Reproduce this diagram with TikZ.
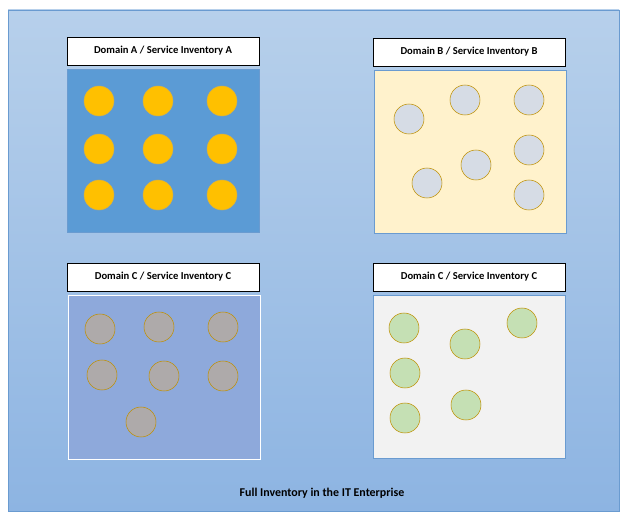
\documentclass[tikz,border=0pt]{standalone}
\usepackage{fontspec}
\setmainfont{Carlito}
\definecolor{frTop}{HTML}{B7D0EB}
\definecolor{frBot}{HTML}{8DB4E2}
\definecolor{frLine}{HTML}{6A9BD0}
\definecolor{pnA}{HTML}{5B9BD5}
\definecolor{pnB}{HTML}{FFF2CC}
\definecolor{pnC}{HTML}{8EA9DB}
\definecolor{pnD}{HTML}{F2F2F2}
\definecolor{svGold}{HTML}{FFC000}
\definecolor{svGrey}{HTML}{D6DCE5}
\definecolor{svTaupe}{HTML}{AEAAAA}
\definecolor{svGreen}{HTML}{C5E0B4}
\definecolor{svRim}{HTML}{BF9000}
\usetikzlibrary{positioning}
\begin{document}
\begin{tikzpicture}[x=0.0265cm,y=-0.0265cm,
  tag/.style={draw=black, fill=white, minimum width=192*0.0265cm,
    minimum height=28*0.0265cm, font=\bfseries\footnotesize, inner sep=0pt},
  panel/.style={draw=white, line width=0.6pt},
  svc/.style={circle, draw=svRim, minimum width=30*0.0265cm,
    minimum height=29*0.0265cm, inner sep=0pt}
]
  \useasboundingbox (0,0) rectangle (628,518);
  \shade[top color=frTop, bottom color=frBot, draw=frLine] (8,10) rectangle (619,511);

  % Domain A
  \node[tag] (tagA) at (163,51) {Domain A / Service Inventory A};
  \draw[panel, fill=pnA, draw=frLine] (67,69) rectangle (259,232);
  \foreach \x in {99,158,222}
    \foreach \y in {101,149,195}
      \node[svc, fill=svGold, draw=svRim!70] (a\x\y) at (\x,\y) {};

  % Domain B
  \node[tag] (tagB) at (469,52) {Domain B / Service Inventory B};
  \draw[panel, fill=pnB, draw=frLine] (374,70) rectangle (566,233);
  \foreach \x/\y [count=\i] in {409/119,465/100,529/100,476/165,529/150,427/183,529/195}
    \node[svc, fill=svGrey] (b\i) at (\x,\y) {};

  % Domain C left
  \node[tag] (tagC) at (163,277) {Domain C / Service Inventory C};
  \draw[panel, fill=pnC] (68,295) rectangle (260,459);
  \foreach \x/\y [count=\i] in {100/329,159/327,223/327,102/375,164/376,223/376,141/422}
    \node[svc, fill=svTaupe] (c\i) at (\x,\y) {};

  % Domain C right
  \node[tag] (tagD) at (469,277) {Domain C / Service Inventory C};
  \draw[panel, fill=pnD, draw=frLine] (373,295) rectangle (565,458);
  \foreach \x/\y [count=\i] in {404/328,465/344,522/323,405/373,405/418,466/405}
    \node[svc, fill=svGreen] (d\i) at (\x,\y) {};

  \node[font=\bfseries\small] (title) at (322,493) {Full Inventory in the IT Enterprise};
\end{tikzpicture}
\end{document}
